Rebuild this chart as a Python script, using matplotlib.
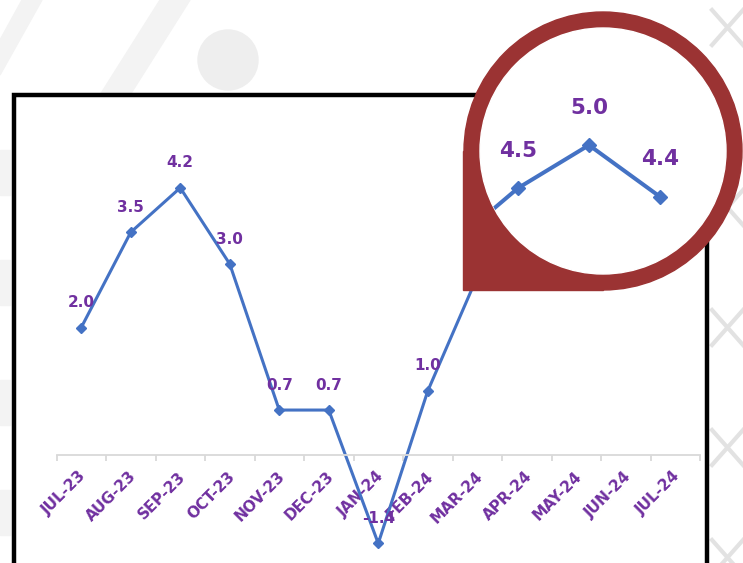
import matplotlib
matplotlib.use("Agg")
import matplotlib.pyplot as plt
from matplotlib.patches import Circle, Rectangle, Polygon
from matplotlib.transforms import Affine2D, ScaledTranslation

# monthly values (%)
months = ["JUL-23", "AUG-23", "SEP-23", "OCT-23", "NOV-23", "DEC-23", "JAN-24",
          "FEB-24", "MAR-24", "APR-24", "MAY-24", "JUN-24", "JUL-24"]
values = [2.0, 3.5, 4.2, 3.0, 0.7, 0.7, -1.4, 1.0, 2.8, 3.8, 4.5, 5.0, 4.4]

W, H = 743, 563
BLUE = "#4472C4"
PURPLE = "#7030A0"
RED = "#9B3333"

fig = plt.figure(figsize=(W / 100, H / 100), dpi=100)
fig.patch.set_facecolor("white")

# pixel coords (origin top-left) -> figure
px = Affine2D().scale(1 / W, -1 / H).translate(0, 1) + fig.transFigure

# faint background decoration
deco = "#f3f3f3"
fig.patches.append(Polygon([(0, 40), (22, 0), (42, 0), (0, 75)], closed=True,
                           transform=px, color=deco, zorder=-3))
fig.patches.append(Polygon([(100, 95), (160, 0), (190, 0), (130, 95)], closed=True,
                           transform=px, color=deco, zorder=-3))
fig.patches.append(Circle((228, 60), 30, transform=px, color="#eeeeee", zorder=-3))
for y0 in [0, 180, 300, 420, 530]:
    fig.lines.append(plt.Line2D([712, 743], [y0 + 10, y0 + 45], transform=px,
                                color="#e2e2e2", lw=3, zorder=-3))
    fig.lines.append(plt.Line2D([712, 743], [y0 + 45, y0 + 10], transform=px,
                                color="#e2e2e2", lw=3, zorder=-3))
for y0 in [150, 260, 380, 490]:
    fig.patches.append(Rectangle((0, y0), 10, 45, transform=px, color=deco, zorder=-3))

# black frame round the chart
fig.patches.append(Rectangle((14, 94.5), 693, 500, transform=px, facecolor="white",
                             edgecolor="black", lw=3.2, zorder=-1))

# main chart
ax = fig.add_axes([56.5 / W, 0, 643.5 / W, 463 / H])
ax.set_zorder(0)
ax.patch.set_visible(False)
x = list(range(len(months)))
ax.plot(x, values, color=BLUE, lw=2.2, marker="D", ms=5.5, clip_on=False)
for xi, v in zip(x, values):
    ax.annotate(f"{v:.1f}", (xi, v), xytext=(0, 18), textcoords="offset points",
                ha="center", va="center", color=PURPLE, fontsize=11,
                fontweight="bold")
ax.set_xlim(-0.5, 12.5)
ax.set_ylim(-(H - 454.5) / 63.5, (454.5 - 100) / 63.5)
for s in ["top", "left", "right"]:
    ax.spines[s].set_visible(False)
ax.spines["bottom"].set_position(("data", 0))
ax.spines["bottom"].set_color("#d9d9d9")
ax.spines["bottom"].set_linewidth(1.3)
ax.set_yticks([])
ax.set_xticks(x)
ax.set_xticks([i - 0.5 for i in range(len(months) + 1)], minor=True)
ax.tick_params(axis="x", which="major", length=0, pad=14)
ax.tick_params(axis="x", which="minor", length=4, width=1.3, color="#d9d9d9")
ax.set_xticklabels(months, rotation=45, ha="right", va="center",
                   rotation_mode="anchor", color=PURPLE, fontsize=11,
                   fontweight="bold")
shift = ScaledTranslation(2 / 72, 0, fig.dpi_scale_trans)
for lab in ax.get_xticklabels():
    lab.set_transform(lab.get_transform() + shift)

# magnifier: red ring with a square pointer at the lower left
cx, cy, r_in = 603, 151, 123
fig.patches.append(Circle((cx, cy), 139, transform=px, color=RED, zorder=2))
fig.patches.append(Rectangle((463, cy), cx - 463, 290 - cy, transform=px,
                             color=RED, zorder=2))
fig.patches.append(Circle((cx, cy), r_in, transform=px, color="white", zorder=3))

ax2 = fig.add_axes([480 / W, (H - 275) / H, 246 / W, 246 / H])
ax2.set_zorder(4)
ax2.axis("off")
ax2.set_xlim(9.465, 12.93)
ax2.set_ylim(3.49, 6.35)
clip = Circle((cx, cy), r_in, transform=px)
zline, = ax2.plot(x, values, color=BLUE, lw=2.9, marker="D", ms=7)
zline.set_clip_path(clip)
# label only the points that show inside the lens
to_px = ax2.transData + px.inverted()
for xi, v in zip(x, values):
    u, w = to_px.transform((xi, v))
    if (u - cx) ** 2 + (w - 37 - cy) ** 2 < (r_in - 20) ** 2:
        ax2.annotate(f"{v:.1f}", (xi, v), xytext=(0, 27), textcoords="offset points",
                     ha="center", va="center", color=PURPLE, fontsize=15.5,
                     fontweight="bold")

fig.savefig("out.png", dpi=100)
